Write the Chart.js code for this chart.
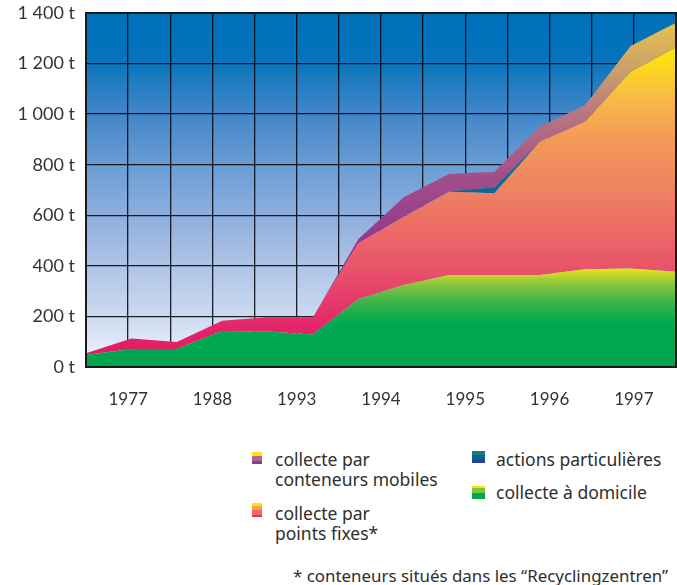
<!DOCTYPE html>
<html lang="fr">
<head>
<meta charset="utf-8">
<title>Collecte du verre</title>
<script src="https://cdn.jsdelivr.net/npm/chart.js@4.4.1/dist/chart.umd.min.js"></script>
<style>
  html, body { margin: 0; padding: 0; background: #fff; }
  #wrap { position: relative; width: 677px; height: 585px; overflow: hidden; }
  #chartBox { position: absolute; left: 0; top: 0; width: 677px; height: 430px; }
  .txt { position: absolute; font-family: "Noto Sans", sans-serif; font-size: 17.5px; line-height: 20px; color: #2e2e2e; white-space: nowrap; }
  .note { font-size: 16.9px; }
  .sw { position: absolute; }
</style>
</head>
<body>
<div id="wrap">
  <div id="chartBox"><canvas id="glassChart"></canvas></div>

  <div class="sw" style="left:252px; top:452px; width:10px; height:12px; background:linear-gradient(to bottom, #ffe600 0 30%, #ad6498 30% 72%, #8e3a8c 72%);"></div>
  <div class="txt" style="left:275px; top:449px;">collecte par<br>conteneurs mobiles</div>

  <div class="sw" style="left:252px; top:503px; width:10px; height:14px; background:linear-gradient(to bottom, #ffe600 0 20%, #f4a050 20% 50%, #ee6a62 50% 85%, #e03060 85%);"></div>
  <div class="txt" style="left:275px; top:503px;">collecte par<br>points fixes*</div>

  <div class="sw" style="left:472px; top:451px; width:13px; height:12px; background:linear-gradient(to bottom, #0e8077 0 30%, #145e96 30% 65%, #23449a 65%);"></div>
  <div class="txt" style="left:496px; top:449px;">actions particulières</div>

  <div class="sw" style="left:472px; top:486px; width:13px; height:13px; background:linear-gradient(to bottom, #ffe600 0 18%, #7dc242 18% 55%, #00a651 55%);"></div>
  <div class="txt" style="left:496px; top:482px;">collecte à domicile</div>

  <div class="txt note" style="left:293px; top:566px;">* conteneurs situés dans les “Recyclingzentren”</div>
</div>

<script>
// tonnes collected per period, one array per collection type
const yearLabels = ['1977', '1988', '1993', '1994', '1995', '1996', '1997'];
const yTickLabels = ['0 t', '200 t', '400 t', '600 t', '800 t', '1 000 t', '1 200 t', '1 400 t'];
const collecteDomicile = [47, 71, 71, 142, 140, 129, 268, 324, 364, 364, 364, 387, 390, 377];
const pointsFixes = [7, 42, 28, 41, 57, 68, 221, 269, 329, 323, 527, 583, 778, 887];
const actionsParticulieres = [0, 0, 0, 0, 0, 0, 0, 0, 2, 24, 0, 0, 0, 0];
const conteneursMobiles = [0, 0, 0, 0, 0, 0, 16, 78, 68, 61, 59, 66, 101, 97];

const Y_MAX = 1400;
const lastIndex = collecteDomicile.length - 1;

function toPoints(values) {
	return values.map((v, i) => ({ x: i, y: v }));
}

// vertical gradient whose stops are given in tonnes
function vGradient(chart, stops) {
	const { ctx, chartArea, scales } = chart;
	if (!chartArea)
		return null;
	const y0 = scales.y.getPixelForValue(0);
	const y1 = scales.y.getPixelForValue(Y_MAX);
	const g = ctx.createLinearGradient(0, y0, 0, y1);
	stops.forEach(([v, c]) => g.addColorStop(v / Y_MAX, c));
	return g;
}

const greenStops = [[0, '#00a650'], [170, '#00a84f'], [260, '#3db54a'], [330, '#8cc63f'], [385, '#e6e21a'], [1400, '#f2e600']];
const pinkStops = [[0, '#e0195f'], [150, '#e2246a'], [400, '#e9556a'], [700, '#ef8262'], [900, '#f39a58'], [1050, '#f7b84a'], [1270, '#ffeb00'], [1400, '#fff000']];
const blueStops = [[0, '#23449a'], [600, '#145e96'], [900, '#0e7a8a']];
const purpleStops = [[0, '#8a2c8e'], [450, '#90348d'], [750, '#a24e8a'], [1000, '#b87680'], [1150, '#c99a6e'], [1400, '#ebc84a']];
const skyStops = [[0, '#f2f5fc'], [200, '#cddaf0'], [400, '#afc4e7'], [600, '#8eaedd'], [800, '#6a9dd4'], [1000, '#4286c8'], [1230, '#0473bc'], [1400, '#0070ba']];

const plotBackground = {
	id: 'plotBackground',
	beforeDraw(chart) {
		const { ctx, chartArea } = chart;
		ctx.save();
		ctx.fillStyle = vGradient(chart, skyStops);
		ctx.fillRect(chartArea.left, chartArea.top, chartArea.width, chartArea.height);
		ctx.restore();
	}
};

const plotFrame = {
	id: 'plotFrame',
	afterDatasetsDraw(chart) {
		const { ctx, chartArea } = chart;
		ctx.save();
		ctx.strokeStyle = '#1a1a1a';
		ctx.lineWidth = 2;
		ctx.strokeRect(chartArea.left, chartArea.top, chartArea.width, chartArea.height);
		ctx.restore();
	}
};

// fixed axis size, and no extra room reserved for overhanging tick labels
function fixScale(size) {
	return (scale) => {
		if (scale.isHorizontal())
			scale.height = size;
		else
			scale.width = size;
		scale.paddingLeft = scale.paddingRight = scale.paddingTop = scale.paddingBottom = 0;
	};
}

function areaSet(label, values, stops, fill) {
	return {
		label: label,
		data: toPoints(values),
		fill: fill,
		backgroundColor: (c) => vGradient(c.chart, stops),
		borderWidth: 0,
		pointRadius: 0,
		tension: 0
	};
}

const ctx = document.getElementById('glassChart').getContext('2d');
new Chart(ctx, {
	type: 'line',
	data: {
		datasets: [
			areaSet('collecte à domicile', collecteDomicile, greenStops, 'origin'),
			areaSet('collecte par points fixes', pointsFixes, pinkStops, '-1'),
			areaSet('actions particulières', actionsParticulieres, blueStops, '-1'),
			areaSet('collecte par conteneurs mobiles', conteneursMobiles, purpleStops, '-1')
		]
	},
	options: {
		responsive: true,
		maintainAspectRatio: false,
		animation: false,
		layout: { autoPadding: false, padding: { top: 13, right: 1, left: 0, bottom: 0 } },
		plugins: {
			legend: { display: false },
			tooltip: { enabled: false }
		},
		scales: {
			x: {
				type: 'linear',
				min: 0,
				max: lastIndex,
				afterBuildTicks: (scale) => {
					const cols = yearLabels.length * 2;
					scale.ticks = [];
					for (let k = 0; k <= cols; k++)
						scale.ticks.push({ value: k * lastIndex / cols });
				},
				afterFit: fixScale(63),
				grid: { color: 'rgba(10,10,20,0.9)', lineWidth: 1.3, drawTicks: false },
				border: { display: false },
				ticks: {
					autoSkip: false,
					maxRotation: 0,
					padding: 22,
					color: '#333',
					font: { family: 'Lato', size: 17 },
					callback: (value, index) => index % 2 ? yearLabels[(index - 1) / 2] : ''
				}
			},
			y: {
				stacked: true,
				min: 0,
				max: Y_MAX,
				afterFit: fixScale(86),
				grid: { color: 'rgba(10,10,20,0.9)', lineWidth: 1.3, drawTicks: false },
				border: { display: false },
				ticks: {
					stepSize: 200,
					padding: 11,
					color: '#333',
					font: { family: 'Lato', size: 18 },
					callback: (value, index) => yTickLabels[index]
				}
			}
		}
	},
	plugins: [plotBackground, plotFrame]
});
</script>
</body>
</html>
